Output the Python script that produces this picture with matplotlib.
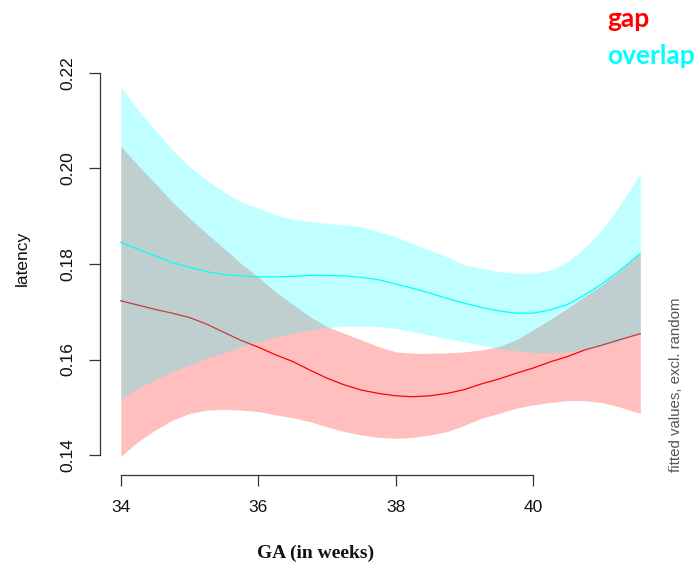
import numpy as np
import matplotlib
matplotlib.use("Agg")
import matplotlib.pyplot as plt

# fitted GA smooths per condition, with CI bounds (fitted values, excl. random)
ga = [34.0, 34.25, 34.5, 34.75, 35.0, 35.25, 35.5, 35.75, 36.0, 36.25, 36.5,
      36.75, 37.0, 37.25, 37.5, 37.75, 38.0, 38.25, 38.5, 38.75, 39.0,
      39.25, 39.5, 39.75, 40.0, 40.25, 40.5, 40.75, 41.0, 41.25, 41.56]

gap_fit = [0.1723, 0.1714, 0.1705, 0.1697, 0.1688, 0.1674, 0.1657, 0.1640, 0.1626, 0.1610, 0.1596,
           0.1578, 0.1561, 0.1547, 0.1536, 0.1529, 0.1524, 0.1522, 0.1524, 0.1529, 0.1537,
           0.1549, 0.1559, 0.1571, 0.1582, 0.1595, 0.1606, 0.1620, 0.1630, 0.1641, 0.1654]
gap_upper = [0.2047, 0.2007, 0.1969, 0.1930, 0.1896, 0.1864, 0.1833, 0.1801, 0.1773, 0.1742, 0.1716,
             0.1690, 0.1669, 0.1655, 0.1641, 0.1627, 0.1616, 0.1613, 0.1613, 0.1614, 0.1616,
             0.1620, 0.1627, 0.1641, 0.1662, 0.1684, 0.1707, 0.1732, 0.1756, 0.1784, 0.1822]
gap_lower = [0.1397, 0.1428, 0.1452, 0.1473, 0.1487, 0.1494, 0.1496, 0.1494, 0.1491, 0.1484, 0.1478,
             0.1470, 0.1459, 0.1449, 0.1442, 0.1437, 0.1435, 0.1437, 0.1442, 0.1449, 0.1462,
             0.1477, 0.1487, 0.1498, 0.1505, 0.1510, 0.1514, 0.1514, 0.1510, 0.1501, 0.1487]

ovl_fit = [0.1845, 0.1831, 0.1817, 0.1803, 0.1793, 0.1784, 0.1778, 0.1775, 0.1773, 0.1773, 0.1774,
           0.1776, 0.1776, 0.1775, 0.1772, 0.1767, 0.1758, 0.1749, 0.1739, 0.1728, 0.1718,
           0.1709, 0.1702, 0.1697, 0.1697, 0.1704, 0.1715, 0.1735, 0.1758, 0.1785, 0.1822]
ovl_upper = [0.2171, 0.2123, 0.2081, 0.2039, 0.2004, 0.1976, 0.1951, 0.1930, 0.1917, 0.1903, 0.1894,
             0.1889, 0.1885, 0.1882, 0.1878, 0.1868, 0.1857, 0.1843, 0.1829, 0.1815, 0.1798,
             0.1791, 0.1784, 0.1781, 0.1781, 0.1787, 0.1805, 0.1833, 0.1871, 0.1920, 0.1990]
ovl_lower = [0.1517, 0.1540, 0.1557, 0.1574, 0.1589, 0.1603, 0.1614, 0.1627, 0.1637, 0.1648, 0.1655,
             0.1662, 0.1667, 0.1670, 0.1670, 0.1669, 0.1665, 0.1658, 0.1651, 0.1644, 0.1637,
             0.1630, 0.1623, 0.1618, 0.1615, 0.1614, 0.1616, 0.1621, 0.1628, 0.1637, 0.1655]

xticks = [34, 36, 38, 40]
yticks = [0.14, 0.16, 0.18, 0.20, 0.22]

plt.rcParams['font.family'] = ['Liberation Sans', 'DejaVu Sans']

fig = plt.figure(figsize=(7, 5.68), dpi=100)
ax = fig.add_axes([100 / 700, 1 - 475 / 568, 561 / 700, 418 / 568])

# gap first, overlap band laid over it (also over the gap line)
ax.fill_between(ga, gap_lower, gap_upper, color='red', alpha=0.25, linewidth=0, zorder=1)
ax.plot(ga, gap_fit, color='red', linewidth=0.9, zorder=2)
ax.fill_between(ga, ovl_lower, ovl_upper, color='cyan', alpha=0.25, linewidth=0, zorder=3)
ax.plot(ga, ovl_fit, color='cyan', linewidth=0.9, zorder=4)

ax.set_xlim(34 - 0.302, 41.56 + 0.302)
ax.set_ylim(0.14 - 20 * 0.0002094, 0.22 + 16 * 0.0002094)

for side in ['top', 'right']:
    ax.spines[side].set_visible(False)
ax.spines['left'].set_bounds(0.14, 0.22)
ax.spines['bottom'].set_bounds(34, 40)
for side in ['left', 'bottom']:
    ax.spines[side].set_color('#333333')
    ax.spines[side].set_linewidth(0.9)

ax.set_xticks(xticks)
ax.set_xticklabels([str(t) for t in xticks])
ax.set_yticks(yticks)
ax.set_yticklabels([f"{t:.2f}" for t in yticks])
ax.tick_params(axis='both', direction='out', length=8, width=0.9, color='#333333',
               labelsize=12.5, labelcolor='#111111')
ax.tick_params(axis='x', pad=10)
ax.tick_params(axis='y', pad=10)
for lab in ax.get_yticklabels():
    lab.set_rotation(90)
    lab.set_va('center')

fig.text(22 / 700, 1 - 258 / 568, 'latency', rotation=90, ha='center', va='center',
         fontsize=12.5, color='#111111')
fig.text(316 / 700, 1 - 553 / 568, 'GA (in weeks)', ha='center', va='center',
         fontsize=14, fontweight='bold', family='Liberation Serif', color='#111111')
fig.text(676 / 700, 1 - 385 / 568, 'fitted values, excl. random', rotation=90,
         ha='center', va='center', fontsize=10.8, color='#555555')

# legend labels in the top right corner
fig.text(607 / 700, 1 - 27 / 568, 'gap', color='red', fontsize=19, fontweight='bold',
         family='Lato', ha='left', va='baseline')
fig.text(607 / 700, 1 - 64 / 568, 'overlap', color='cyan', fontsize=19, fontweight='bold',
         family='Lato', ha='left', va='baseline')

fig.savefig('out.png', dpi=100)
